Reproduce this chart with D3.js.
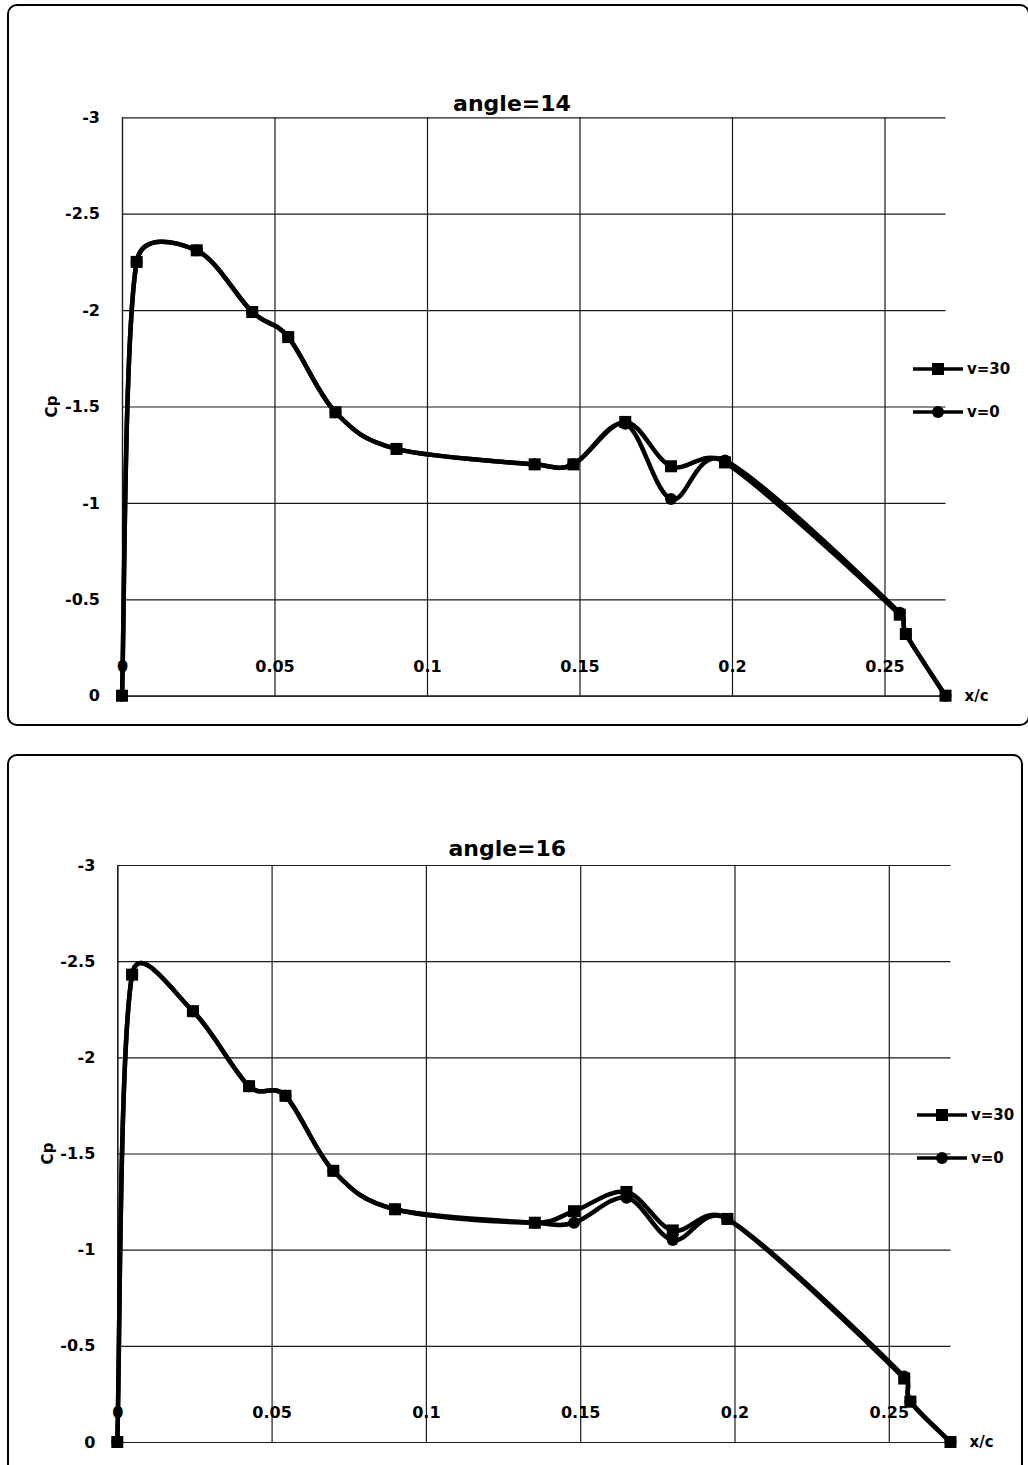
<!DOCTYPE html>
<html>
<head>
<meta charset="utf-8">
<script src="https://cdn.jsdelivr.net/npm/d3@7"></script>
<style>
  body { margin: 0; background: #fff; }
  text { font-family: "DejaVu Sans", Verdana, sans-serif; font-weight: bold; fill: #000; }
</style>
</head>
<body>
<script>
//**************************************************************************
//Data

// pressure tap positions, same for both charts
const xc = [0, 0.0048, 0.0245, 0.0427, 0.0545, 0.07, 0.09, 0.1353, 0.148, 0.165, 0.18, 0.1977, 0.255, 0.257, 0.27];

const cp14_v30 = [0, -2.25, -2.31, -1.99, -1.86, -1.47, -1.28, -1.20, -1.20, -1.42, -1.19, -1.21, -0.42, -0.32, 0];
const cp14_v0  = [0, -2.25, -2.31, -1.99, -1.86, -1.47, -1.28, -1.20, -1.20, -1.41, -1.02, -1.22, -0.43, -0.32, 0];

const cp16_v30 = [0, -2.43, -2.24, -1.85, -1.80, -1.41, -1.21, -1.14, -1.20, -1.30, -1.10, -1.16, -0.33, -0.21, 0];
const cp16_v0  = [0, -2.43, -2.24, -1.85, -1.80, -1.41, -1.21, -1.14, -1.14, -1.27, -1.05, -1.16, -0.34, -0.21, 0];

const xTicks = [0, 0.05, 0.1, 0.15, 0.2, 0.25];
const yTicks = [-3, -2.5, -2, -1.5, -1, -0.5, 0];
const seriesNames = ["v=30", "v=0"];

//**************************************************************************
//Canvas

const canvWidth = 1028;
const canvHeight = 1465;

const svg = d3.select("body").append("svg")
  .attr("width", canvWidth)
  .attr("height", canvHeight);

// each chart: its frame, plot box and where title / legend sit
const charts = [
  {title: "angle=14", v30: cp14_v30, v0: cp14_v0,
   frame: {x: 8, y: 5, w: 1021, h: 720},
   plot: {left: 122, top: 117.3, width: 823.5, height: 578.4},
   titleY: 111, legendX: 913, legendY: 369},
  {title: "angle=16", v30: cp16_v30, v0: cp16_v0,
   frame: {x: 8, y: 755, w: 1014, h: 730},
   plot: {left: 117.3, top: 865, width: 833.2, height: 577},
   titleY: 856, legendX: 917, legendY: 1115}
];

//****************************
//spreadsheet-style smoothing: bezier with (p2-p0)/6 handles,
//handle length capped at half the segment so short segments don't loop
const curveSmooth = context => {
  let pts;
  const cap = (v, max) => {
    const len = Math.hypot(v[0], v[1]);
    return len > max ? [v[0] * max / len, v[1] * max / len] : v;
  };
  return {
    areaStart() {},
    areaEnd() {},
    lineStart() { pts = []; },
    point(x, y) { pts.push([+x, +y]); },
    lineEnd() {
      const n = pts.length;
      if (!n) return;
      context.moveTo(pts[0][0], pts[0][1]);
      for (let i = 0; i < n - 1; i++) {
        const p0 = pts[Math.max(i - 1, 0)], p1 = pts[i], p2 = pts[i + 1], p3 = pts[Math.min(i + 2, n - 1)];
        const seg = Math.hypot(p2[0] - p1[0], p2[1] - p1[1]);
        const h1 = cap([(p2[0] - p0[0]) / 6, (p2[1] - p0[1]) / 6], seg * 0.5);
        const h2 = cap([(p3[0] - p1[0]) / 6, (p3[1] - p1[1]) / 6], seg * 0.5);
        context.bezierCurveTo(p1[0] + h1[0], p1[1] + h1[1], p2[0] - h2[0], p2[1] - h2[1], p2[0], p2[1]);
      }
    }
  };
};

charts.forEach(drawChart);

//****************************
//one chart

function drawChart(c) {
  // chart area frame
  svg.append("rect")
    .attr("x", c.frame.x)
    .attr("y", c.frame.y)
    .attr("width", c.frame.w)
    .attr("height", c.frame.h)
    .attr("rx", 9)
    .attr("fill", "none")
    .attr("stroke", "#000")
    .attr("stroke-width", 2);

  const p = c.plot;
  const g = svg.append("g")
    .attr("transform", `translate(${p.left},${p.top})`);

  const xScale = d3.scaleLinear().domain([0, 0.27]).range([0, p.width]);
  const yScale = d3.scaleLinear().domain([-3, 0]).range([0, p.height]);

  //y axis + horizontal grid
  const yAxis = g.append("g")
    .call(d3.axisLeft(yScale)
      .tickValues(yTicks)
      .tickSize(-p.width)
      .tickSizeOuter(0)
      .tickPadding(22)
      .tickFormat(d => String(d)));

  //x axis + vertical grid, labels sit above the zero line
  const xAxis = g.append("g")
    .attr("transform", `translate(0,${p.height})`)
    .call(d3.axisBottom(xScale)
      .tickValues(xTicks)
      .tickSize(-p.height)
      .tickSizeOuter(0)
      .tickFormat(d => String(d)));
  xAxis.selectAll(".tick text")
    .attr("y", -24)
    .attr("dy", "0");

  [yAxis, xAxis].forEach(a => {
    a.attr("font-family", null).attr("font-size", null);
    a.selectAll("line, path").attr("stroke", "#1a1a1a").attr("stroke-width", 1.2);
    a.selectAll("text").style("font-size", "16px");
  });

  //title and axis titles
  svg.append("text")
    .attr("x", p.left + 390)
    .attr("y", c.titleY)
    .attr("text-anchor", "middle")
    .style("font-size", "22px")
    .text(c.title);

  g.append("text")
    .attr("x", p.width + 19)
    .attr("y", p.height)
    .attr("dy", "0.35em")
    .style("font-size", "15px")
    .text("x/c");

  g.append("text")
    .attr("transform", `translate(-70,${yScale(-1.5)}) rotate(-90)`)
    .attr("text-anchor", "middle")
    .attr("dy", "0.35em")
    .style("font-size", "15px")
    .text("Cp");

  //series
  const line = d3.line()
    .x(d => xScale(d[0]))
    .y(d => yScale(d[1]))
    .curve(curveSmooth);

  const pts0 = xc.map((x, i) => [x, c.v0[i]]);
  const pts30 = xc.map((x, i) => [x, c.v30[i]]);

  g.append("path")
    .datum(pts0)
    .attr("d", line)
    .attr("fill", "none")
    .attr("stroke", "#000")
    .attr("stroke-width", 4.5);

  g.selectAll(".m0")
    .data(pts0)
    .enter().append("circle")
    .attr("class", "m0")
    .attr("cx", d => xScale(d[0]))
    .attr("cy", d => yScale(d[1]))
    .attr("r", 6)
    .attr("fill", "#000");

  g.append("path")
    .datum(pts30)
    .attr("d", line)
    .attr("fill", "none")
    .attr("stroke", "#000")
    .attr("stroke-width", 4.5);

  g.selectAll(".m30")
    .data(pts30)
    .enter().append("rect")
    .attr("class", "m30")
    .attr("x", d => xScale(d[0]) - 6)
    .attr("y", d => yScale(d[1]) - 6)
    .attr("width", 12)
    .attr("height", 12)
    .attr("fill", "#000");

  //legend
  const lg = svg.append("g")
    .attr("transform", `translate(${c.legendX},${c.legendY})`);

  seriesNames.forEach((name, i) => {
    const row = lg.append("g").attr("transform", `translate(0,${i * 43})`);
    row.append("line")
      .attr("x1", 0).attr("x2", 50)
      .attr("stroke", "#000")
      .attr("stroke-width", 3.5);
    if (i === 0) {
      row.append("rect")
        .attr("x", 19).attr("y", -6)
        .attr("width", 12).attr("height", 12)
        .attr("fill", "#000");
    } else {
      row.append("circle")
        .attr("cx", 25).attr("r", 6)
        .attr("fill", "#000");
    }
    row.append("text")
      .attr("x", 54)
      .attr("dy", "0.35em")
      .style("font-size", "15px")
      .text(name);
  });
}
</script>
</body>
</html>
